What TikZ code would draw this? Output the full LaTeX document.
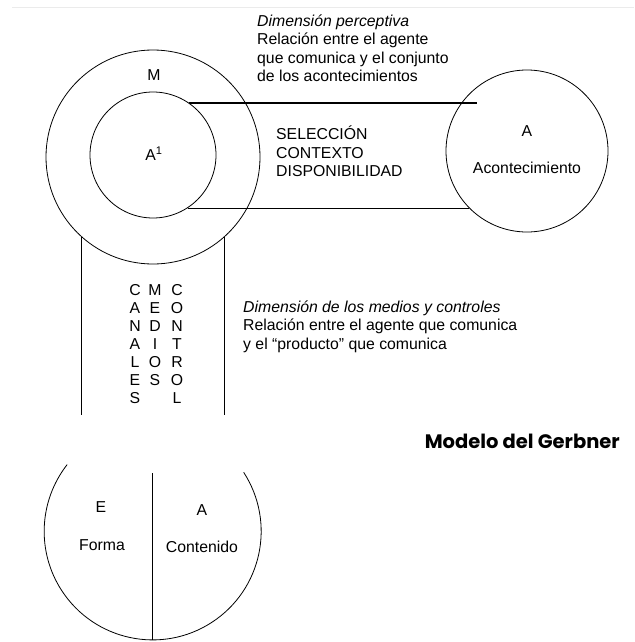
\documentclass[tikz,border=0pt]{standalone}
\usepackage{fontspec}
\setmainfont{Liberation Sans}
\newfontfamily\titlefont{Poppins}
\usetikzlibrary{positioning}

\tikzset{
  ring/.style={draw,circle,line width=0.8pt,inner sep=0},
  bar/.style={line width=1.2pt},
  lbl/.style={inner sep=0,anchor=base,font=\fontsize{15.8}{18.5}\selectfont},
  notes/.style={inner sep=0,anchor=base west,align=left,font=\fontsize{15.8}{18.5}\selectfont},
  letters/.style={inner sep=0,anchor=base,align=center,font=\fontsize{15.8}{18}\selectfont},
}

\begin{document}
\begin{tikzpicture}[x=1pt,y=-1pt]
  \useasboundingbox (0,0) rectangle (634,642);
  \draw[black!8,line width=0.6pt] (12,7) -- (634,7);

  % circulos
  \node[ring,minimum size=214pt] (medios) at (153,157) {};
  \node[ring,minimum size=126pt] (agente) at (153,155) {};
  \node[ring,minimum size=162pt] (acont) at (527,151) {};
  \node[lbl] (m) at (154,80) {M};
  \node[lbl] (a1) at (154,160) {A\textsuperscript{1}};
  \node[lbl] (a) at (527,136) {A};
  \node[lbl] (acontlbl) at (527,173) {Acontecimiento};

  % banda de seleccion (base = ultima linea)
  \coordinate (topend) at (477,103);
  \draw[bar] (agente.55) -- (agente.55 -| topend);
  \draw[bar] (agente.-57) -- (agente.-57 -| acont.-135);
  \node[notes] (seleccion) at (276,176.5) {SELECCIÓN\\CONTEXTO\\DISPONIBILIDAD};

  \node[notes] (perceptiva) at (257,81.5) {\textit{Dimensión perceptiva}\\Relación entre el agente\\que comunica y el conjunto\\de los acontecimientos};

  % canal
  \coordinate (chanbot) at (0,415);
  \draw[bar] (medios.-132) -- (medios.-132 |- chanbot);
  \draw[bar] (medios.-48) -- (medios.-48 |- chanbot);
  \node[letters] (canales) at (135,403) {C\\A\\N\\A\\L\\E\\S};
  \node[letters] (mediosw) at (155,385) {M\\E\\D\\I\\O\\S};
  \node[letters] (control) at (177,403) {C\\O\\N\\T\\R\\O\\L};

  \node[notes] (controles) at (243,349) {\textit{Dimensión de los medios y controles}\\Relación entre el agente que comunica\\y el “producto” que comunica};

  \node[inner sep=0,anchor=base east,font=\titlefont\bfseries\fontsize{19.5}{22}\selectfont] (titulo) at (620,448) {Modelo del Gerbner};

  % mensaje
  \node[circle,inner sep=0,minimum size=217pt] (bowl) at (152.5,531.5) {};
  \coordinate (divtop) at (0,473);
  \draw[line width=0.8pt] (bowl.33) arc[start angle=33,end angle=-218,radius=108.5pt];
  \draw[bar] (bowl.south |- divtop) -- (bowl.south);
  \node[lbl] (e) at (101,512) {E};
  \node[lbl] (forma) at (102,550) {Forma};
  \node[lbl] (a2) at (202,515) {A};
  \node[lbl] (contenido) at (202,552) {Contenido};
\end{tikzpicture}
\end{document}
